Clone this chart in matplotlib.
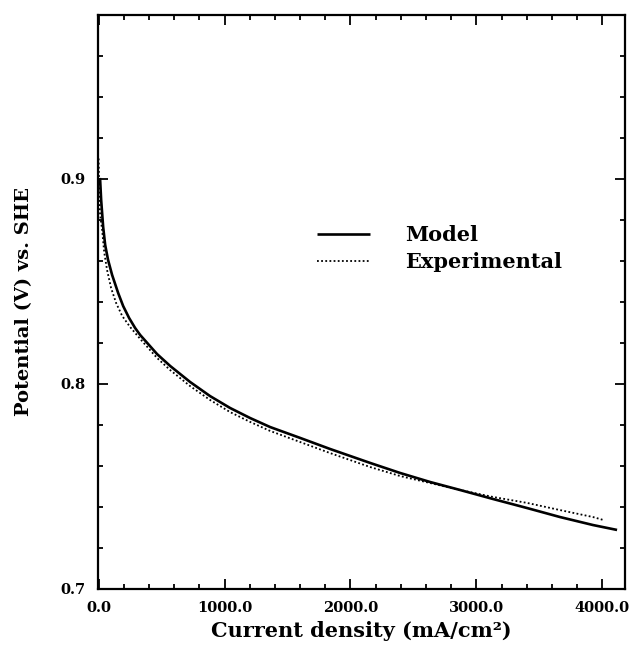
import matplotlib
matplotlib.use("Agg")
import matplotlib.pyplot as plt
from matplotlib.ticker import MultipleLocator, FormatStrFormatter

# Data (current density mA/cm², potential V)
model_i = [10, 12, 20, 36, 52, 75, 107, 155, 195, 242, 290, 330, 464, 568, 726,
           885, 1044, 1203, 1362, 1600, 1838, 2156, 2394, 2632, 2870, 3132, 3402,
           3664, 3926, 4117]
model_v = [0.9005, 0.8995, 0.8898, 0.8766, 0.8678, 0.8605, 0.8532, 0.8444, 0.8380,
           0.8322, 0.8273, 0.8239, 0.8146, 0.8088, 0.8010, 0.7941, 0.7883, 0.7834,
           0.7790, 0.7737, 0.7683, 0.7615, 0.7566, 0.7522, 0.7483, 0.7439, 0.7395,
           0.7351, 0.7312, 0.7288]

exp_i = [0, 4, 8, 12, 28, 44, 67, 99, 139, 187, 250, 330, 464, 568, 726, 885,
         1044, 1203, 1362, 1600, 1838, 2156, 2394, 2632, 2870, 3132, 3402, 3664,
         3926, 4006]
exp_v = [0.9100, 0.8970, 0.8870, 0.8824, 0.8751, 0.8644, 0.8556, 0.8468, 0.8395,
         0.8332, 0.8278, 0.8220, 0.8127, 0.8068, 0.7990, 0.7922, 0.7863, 0.7815,
         0.7771, 0.7717, 0.7663, 0.7595, 0.7551, 0.7517, 0.7483, 0.7449, 0.7420,
         0.7385, 0.7351, 0.7337]

labels = ["Model", "Experimental"]

plt.rcParams['font.family'] = ['DejaVu Serif']
plt.rcParams['font.weight'] = 'bold'

fig = plt.figure(figsize=(6.36, 6.45), dpi=100)
ax = fig.add_axes([98/636, 1 - 589/645, (625-98)/636, (589-15)/645])

ax.plot(model_i, model_v, color='black', lw=1.9, solid_capstyle='butt',
        solid_joinstyle='round', label=labels[0])
ax.plot(exp_i, exp_v, color='black', lw=1.3, linestyle=(0, (1, 1.3)), label=labels[1])

ax.set_xlim(-5, 4180)
ax.set_ylim(0.7, 0.98)

ax.xaxis.set_major_locator(MultipleLocator(1000))
ax.xaxis.set_minor_locator(MultipleLocator(200))
ax.yaxis.set_major_locator(MultipleLocator(0.1))
ax.yaxis.set_minor_locator(MultipleLocator(0.02))
ax.xaxis.set_major_formatter(FormatStrFormatter('%.1f'))
ax.yaxis.set_major_formatter(FormatStrFormatter('%.1f'))

ax.tick_params(which='both', direction='in', top=True, right=True, width=1.3, labelsize=10.5)
ax.tick_params(which='major', length=7, pad=9)
ax.tick_params(which='minor', length=3.5)
for lab in ax.get_xticklabels() + ax.get_yticklabels():
    lab.set_fontweight('bold')
for s in ax.spines.values():
    s.set_linewidth(1.6)

ax.set_xlabel("Current density (mA/cm²)", fontsize=15, fontweight='bold', labelpad=4)
ax.set_ylabel("Potential (V) vs. SHE", fontsize=14, fontweight='bold', labelpad=20)

leg = ax.legend(loc='upper left', bbox_to_anchor=(0.4156, 0.634), frameon=False,
                fontsize=15, handlelength=2.55, handletextpad=1.68, labelspacing=0.33,
                borderpad=0, borderaxespad=0)
for t in leg.get_texts():
    t.set_fontweight('bold')

fig.savefig("out.png", dpi=100)
